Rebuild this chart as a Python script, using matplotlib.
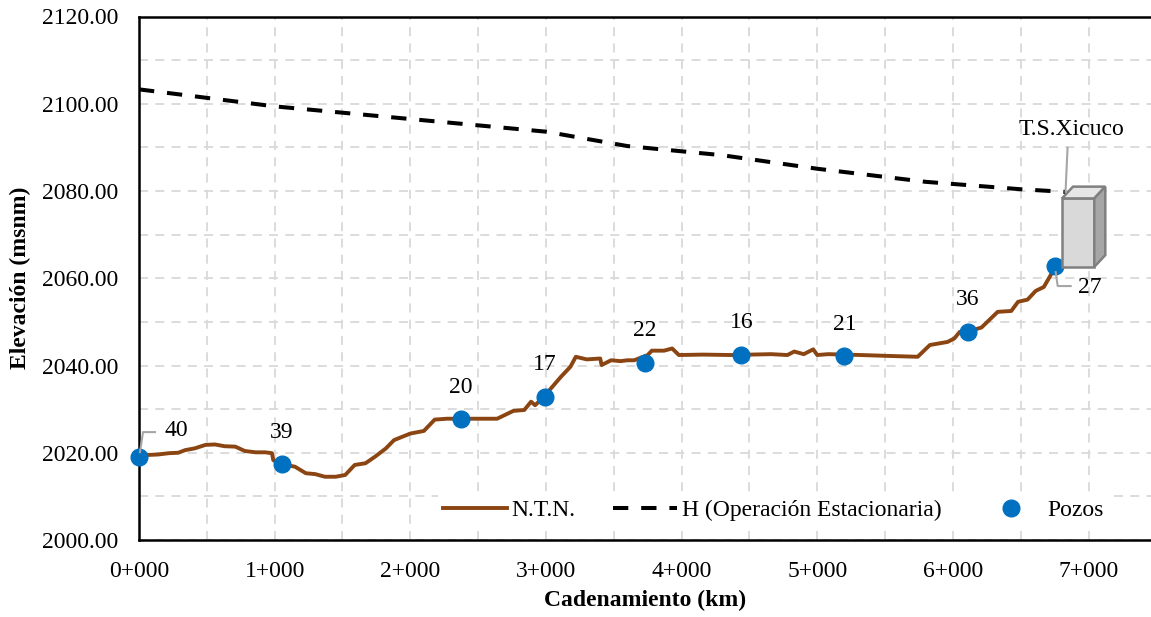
import matplotlib
matplotlib.use("Agg")
import matplotlib.pyplot as plt
import matplotlib.transforms as mtransforms
from matplotlib.patches import Polygon
from matplotlib.lines import Line2D
from matplotlib.ticker import MultipleLocator, FuncFormatter

plt.rcParams['font.family'] = ['Liberation Serif', 'DejaVu Serif']

# Natural terrain profile (cadenamiento in m, elevation in msnm)
terreno_x = [0, 70, 140, 220, 290, 340, 410, 490, 560, 630, 710, 780, 860, 930,
             980, 990, 1050, 1150, 1230, 1300, 1370, 1450, 1520, 1590, 1670, 1740,
             1820, 1880, 2000, 2100, 2180, 2270, 2370, 2640, 2760, 2840, 2890, 2920,
             2980, 3110, 3180, 3220, 3300, 3400, 3410, 3480, 3550, 3600, 3650, 3750,
             3780, 3870, 3930, 3980, 4160, 4360, 4660, 4780, 4830, 4900, 4970, 5000,
             5080, 5320, 5520, 5740, 5830, 5960, 6010, 6050, 6110, 6210, 6330, 6430,
             6480, 6550, 6610, 6670, 6720, 6755]
terreno_y = [2019.0, 2019.5, 2019.6, 2019.9, 2020.0, 2020.6, 2021.0, 2021.8, 2021.9,
             2021.5, 2021.4, 2020.4, 2020.1, 2020.1, 2019.9, 2018.3, 2017.4, 2016.8,
             2015.3, 2015.1, 2014.5, 2014.5, 2014.9, 2017.2, 2017.6, 2019.1, 2021.0,
             2022.9, 2024.4, 2025.0, 2027.6, 2027.8, 2027.8, 2027.8, 2029.6, 2029.8,
             2031.7, 2030.9, 2032.7, 2037.4, 2039.7, 2042.0, 2041.4, 2041.6, 2040.1,
             2041.2, 2041.0, 2041.2, 2041.2, 2042.4, 2043.4, 2043.4, 2043.9, 2042.4,
             2042.5, 2042.4, 2042.6, 2042.4, 2043.2, 2042.6, 2043.7, 2042.4, 2042.6,
             2042.4, 2042.2, 2042.0, 2044.7, 2045.4, 2046.2, 2047.7, 2047.8, 2048.7,
             2052.3, 2052.5, 2054.6, 2055.1, 2057.1, 2058.0, 2060.7, 2062.8]

# Hydraulic grade line for steady operation
carga_x = [0, 1000, 2000, 3000, 3600, 4300, 5000, 5800, 6500, 6830]
carga_y = [2103.3, 2099.4, 2096.5, 2093.6, 2090.3, 2088.2, 2085.1, 2082.1, 2080.4, 2079.8]

# Wells along the line
pozos = ['40', '39', '20', '17', '22', '16', '21', '36', '27']
pozos_x = [0, 1055, 2370, 2990, 3730, 4440, 5200, 6110, 6750]
pozos_y = [2019.0, 2017.4, 2027.7, 2032.8, 2040.6, 2042.5, 2042.1, 2047.7, 2062.8]

# Storage tank (front face extents and depth offset)
tanque_x = [6804, 7042]
tanque_y = [2062.6, 2078.3]
tanque_prof = (81, 2.7)

W, H = 1151, 617
fig = plt.figure(figsize=(W / 100, H / 100), dpi=100)
ax = fig.add_axes([139 / W, (H - 540) / H, (W - 139) / W, (540 - 16.5) / H])
ax.set_xlim(0, 7460)
ax.set_ylim(2000, 2120)

FS = 17
grid_kw = dict(color='#d9d9d9', linestyle=(0, (5, 4)), linewidth=1.3)
ax.xaxis.set_major_locator(MultipleLocator(1000))
ax.xaxis.set_minor_locator(MultipleLocator(500))
ax.yaxis.set_major_locator(MultipleLocator(20))
ax.yaxis.set_minor_locator(MultipleLocator(10))
ax.grid(True, which='both', **grid_kw)
ax.set_axisbelow(True)
ax.tick_params(which='both', length=0)
ax.tick_params(axis='x', labelsize=FS, pad=15)
ax.tick_params(axis='y', labelsize=FS, pad=15)
ax.xaxis.set_major_formatter(FuncFormatter(lambda v, p: f"{int(v) // 1000}+{int(v) % 1000:03d}"))
ax.yaxis.set_major_formatter(FuncFormatter(lambda v, p: f"{v:.2f}"))
for s in ['left', 'bottom', 'top']:
    ax.spines[s].set_linewidth(1.8)
ax.spines['right'].set_visible(False)

ax.set_xlabel('Cadenamiento (km)', fontsize=FS, fontweight='bold', labelpad=6)
ax.set_ylabel('Elevación (msnm)', fontsize=FS, fontweight='bold', labelpad=8)

ax.plot(terreno_x, terreno_y, color='#8B4513', lw=2.8, label='N.T.N.', zorder=3,
        solid_joinstyle='round')
ax.plot(carga_x, carga_y, color='black', lw=2.9, dashes=(3.8, 3.2),
        label='H (Operación Estacionaria)', zorder=3)
ax.plot(pozos_x, pozos_y, 'o', color='#0070C0', ms=12, label='Pozos', zorder=5,
        linestyle='none', clip_on=False)

# Tank drawn as a simple 3D box
x0, x1 = tanque_x
y0, y1 = tanque_y
dx, dy = tanque_prof
edge = '#808080'
front = Polygon([(x0, y0), (x1, y0), (x1, y1), (x0, y1)], closed=True,
                facecolor='#d9d9d9', edgecolor=edge, lw=1.8, zorder=6)
top = Polygon([(x0, y1), (x1, y1), (x1 + dx, y1 + dy), (x0 + dx, y1 + dy)], closed=True,
              facecolor='#e6e6e6', edgecolor=edge, lw=1.8, zorder=6)
side = Polygon([(x1, y0), (x1 + dx, y0 + dy), (x1 + dx, y1 + dy), (x1, y1)], closed=True,
               facecolor='#a6a6a6', edgecolor=edge, lw=1.8, zorder=6)
for p in (front, top, side):
    p.set_clip_on(False)
    ax.add_patch(p)

fig.canvas.draw()


def leader(xd, yd, offs, color='#a6a6a6'):
    px, py = ax.transData.transform((xd, yd))
    tr = mtransforms.Affine2D().translate(px, py)
    xs = [o[0] for o in offs]
    ys = [o[1] for o in offs]
    ln = Line2D(xs, ys, transform=tr, color=color, lw=1.5, zorder=4)
    ln.set_clip_on(False)
    fig.add_artist(ln)


# Well labels
for n, xv, yv in zip(pozos, pozos_x, pozos_y):
    if n == '40':
        ax.annotate(n, (xv, yv), xytext=(27, 19), textcoords='offset points',
                    ha='center', va='center', fontsize=FS, zorder=7)
        leader(xv, yv, [(1, 5), (4, 25), (16, 25)])
    elif n == '27':
        ax.annotate(n, (xv, yv), xytext=(25, -15.5), textcoords='offset points',
                    ha='center', va='center', fontsize=FS, zorder=7)
        leader(xv, yv, [(1, -6), (3, -20), (16, -20)])
    else:
        ax.annotate(n, (xv, yv), xytext=(0, 23), textcoords='offset points',
                    ha='center', va='center', fontsize=FS, zorder=7)

# Tank label
ax.annotate('T.S.Xicuco', (carga_x[-1], carga_y[-1]), xytext=(4, 45),
            textcoords='offset points', ha='center', va='center', fontsize=FS, zorder=7)
leader(carga_x[-1], carga_y[-1], [(0, 0), (2, 44)])

leg = ax.legend(loc='lower right', bbox_to_anchor=(0.97, 0.005), ncol=3, fontsize=FS,
                frameon=True, facecolor='white', edgecolor='none', framealpha=1,
                fancybox=False, handlelength=2.7, handletextpad=0.2, columnspacing=1.6,
                borderpad=0.2)
leg.set_zorder(8)

fig.savefig('out.png', dpi=100)
